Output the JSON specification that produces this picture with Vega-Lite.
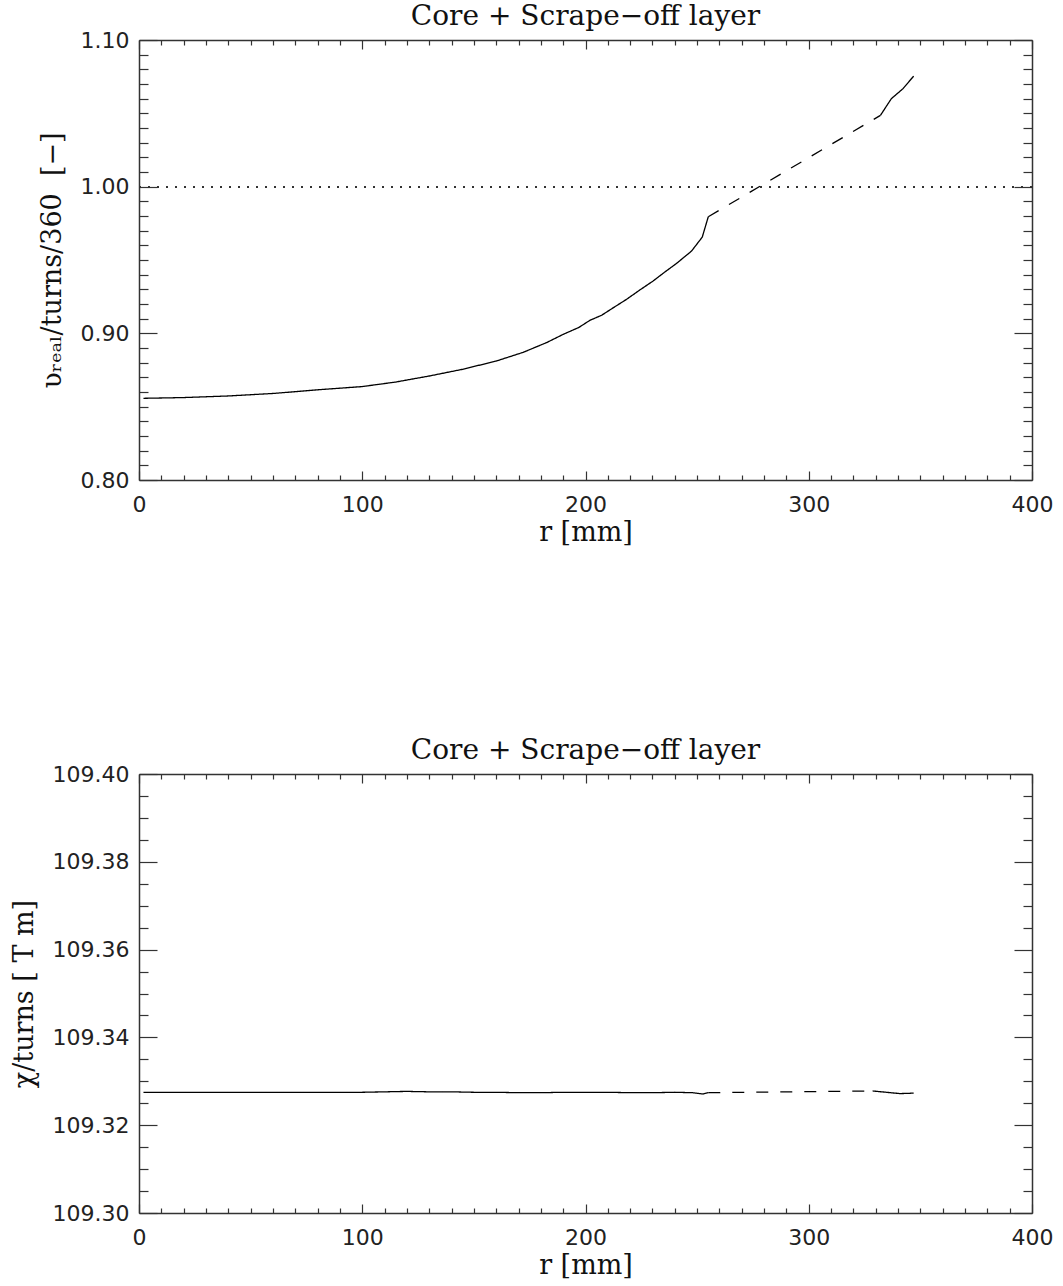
{
  "$schema": "https://vega.github.io/schema/vega-lite/v6.json",
  "background": "white",
  "padding": {"left": 10, "top": 3, "right": 5, "bottom": 2},
  "spacing": 192,
  "config": {
    "view": {"stroke": null},
    "font": "DejaVu Serif",
    "title": {"font": "DejaVu Serif", "fontSize": 28, "fontWeight": "normal", "color": "#111", "anchor": "middle", "offset": -2},
    "axis": {
      "grid": false,
      "labelFont": "DejaVu Sans",
      "labelFontSize": 22,
      "labelColor": "#222",
      "titleFont": "DejaVu Serif",
      "titleFontSize": 27,
      "titleFontWeight": "normal",
      "titleColor": "#111",
      "domainColor": "#333",
      "domainWidth": 1.5,
      "tickColor": "#333",
      "tickWidth": 1.2,
      "labelFlush": false,
      "labelOverlap": false
    }
  },
  "datasets": {
    "top": [
      {"r": 2, "v": 0.8557, "seg": "core", "style": "solid"},
      {"r": 20, "v": 0.8562, "seg": "core", "style": "solid"},
      {"r": 40, "v": 0.8573, "seg": "core", "style": "solid"},
      {"r": 60, "v": 0.8590, "seg": "core", "style": "solid"},
      {"r": 70.6, "v": 0.8603, "seg": "core", "style": "solid"},
      {"r": 80, "v": 0.8615, "seg": "core", "style": "solid"},
      {"r": 100, "v": 0.8637, "seg": "core", "style": "solid"},
      {"r": 115, "v": 0.8668, "seg": "core", "style": "solid"},
      {"r": 130, "v": 0.8709, "seg": "core", "style": "solid"},
      {"r": 145, "v": 0.8755, "seg": "core", "style": "solid"},
      {"r": 160, "v": 0.8811, "seg": "core", "style": "solid"},
      {"r": 172, "v": 0.8870, "seg": "core", "style": "solid"},
      {"r": 182.6, "v": 0.8937, "seg": "core", "style": "solid"},
      {"r": 190, "v": 0.8993, "seg": "core", "style": "solid"},
      {"r": 197, "v": 0.9040, "seg": "core", "style": "solid"},
      {"r": 202, "v": 0.9089, "seg": "core", "style": "solid"},
      {"r": 207.2, "v": 0.9123, "seg": "core", "style": "solid"},
      {"r": 212, "v": 0.9170, "seg": "core", "style": "solid"},
      {"r": 218.4, "v": 0.9232, "seg": "core", "style": "solid"},
      {"r": 224, "v": 0.9292, "seg": "core", "style": "solid"},
      {"r": 230.3, "v": 0.9357, "seg": "core", "style": "solid"},
      {"r": 235, "v": 0.9412, "seg": "core", "style": "solid"},
      {"r": 240.8, "v": 0.9477, "seg": "core", "style": "solid"},
      {"r": 247.5, "v": 0.9561, "seg": "core", "style": "solid"},
      {"r": 252.3, "v": 0.9656, "seg": "core", "style": "solid"},
      {"r": 255, "v": 0.9795, "seg": "core", "style": "solid"},
      {"r": 255, "v": 0.9795, "seg": "gap", "style": "dashed"},
      {"r": 332.1, "v": 1.0486, "seg": "gap", "style": "dashed"},
      {"r": 332.1, "v": 1.0486, "seg": "sol", "style": "solid"},
      {"r": 337, "v": 1.0600, "seg": "sol", "style": "solid"},
      {"r": 342.2, "v": 1.0668, "seg": "sol", "style": "solid"},
      {"r": 347, "v": 1.0754, "seg": "sol", "style": "solid"}
    ],
    "bottom": [
      {"r": 2, "v": 109.3275, "seg": "core", "style": "solid"},
      {"r": 20, "v": 109.3275, "seg": "core", "style": "solid"},
      {"r": 40, "v": 109.3275, "seg": "core", "style": "solid"},
      {"r": 60, "v": 109.3275, "seg": "core", "style": "solid"},
      {"r": 80, "v": 109.3275, "seg": "core", "style": "solid"},
      {"r": 100, "v": 109.3275, "seg": "core", "style": "solid"},
      {"r": 110, "v": 109.3276, "seg": "core", "style": "solid"},
      {"r": 120, "v": 109.3277, "seg": "core", "style": "solid"},
      {"r": 130, "v": 109.3276, "seg": "core", "style": "solid"},
      {"r": 140, "v": 109.3276, "seg": "core", "style": "solid"},
      {"r": 150, "v": 109.3275, "seg": "core", "style": "solid"},
      {"r": 160, "v": 109.3275, "seg": "core", "style": "solid"},
      {"r": 170, "v": 109.3274, "seg": "core", "style": "solid"},
      {"r": 180, "v": 109.3274, "seg": "core", "style": "solid"},
      {"r": 190, "v": 109.3275, "seg": "core", "style": "solid"},
      {"r": 200, "v": 109.3275, "seg": "core", "style": "solid"},
      {"r": 210, "v": 109.3275, "seg": "core", "style": "solid"},
      {"r": 220, "v": 109.3274, "seg": "core", "style": "solid"},
      {"r": 230, "v": 109.3274, "seg": "core", "style": "solid"},
      {"r": 240, "v": 109.3275, "seg": "core", "style": "solid"},
      {"r": 248, "v": 109.3274, "seg": "core", "style": "solid"},
      {"r": 252.7, "v": 109.3271, "seg": "core", "style": "solid"},
      {"r": 255, "v": 109.3274, "seg": "core", "style": "solid"},
      {"r": 255, "v": 109.3274, "seg": "gap", "style": "dashed"},
      {"r": 328.6, "v": 109.3278, "seg": "gap", "style": "dashed"},
      {"r": 328.6, "v": 109.3278, "seg": "sol", "style": "solid"},
      {"r": 340.8, "v": 109.3272, "seg": "sol", "style": "solid"},
      {"r": 347, "v": 109.3273, "seg": "sol", "style": "solid"}
    ]
  },
  "vconcat": [
    {
      "title": "Core + Scrape−off layer",
      "width": 893,
      "height": 440,
      "data": {"name": "top"},
      "resolve": {"axis": {"x": "independent", "y": "independent"}},
      "layer": [
        {
          "mark": {"type": "line", "color": "black", "strokeWidth": 1.3},
          "encoding": {
            "x": {
              "field": "r", "type": "quantitative",
              "scale": {"domain": [0, 400], "nice": false, "zero": false},
              "axis": {
                "orient": "bottom", "title": "r [mm]",
                "values": [0,10,20,30,40,50,60,70,80,90,100,110,120,130,140,150,160,170,180,190,200,210,220,230,240,250,260,270,280,290,300,310,320,330,340,350,360,370,380,390,400],
                "labelExpr": "datum.value % 100 === 0 ? datum.label : ''",
                "tickSize": {"condition": {"test": "datum.value % 100 === 0", "value": -9}, "value": -5},
                "labelPadding": 23,
                "titlePadding": 0
              }
            },
            "y": {
              "field": "v", "type": "quantitative",
              "scale": {"domain": [0.8, 1.1], "nice": false, "zero": false},
              "axis": {
                "orient": "left",
                "title": "ʋᵣₑₐₗ/turns/360\u00a0 [−]",
                "values": [0.8,0.81,0.82,0.83,0.84,0.85,0.86,0.87,0.88,0.89,0.9,0.91,0.92,0.93,0.94,0.95,0.96,0.97,0.98,0.99,1.0,1.01,1.02,1.03,1.04,1.05,1.06,1.07,1.08,1.09,1.1],
                "format": ".2f",
                "labelExpr": "abs(datum.value*10 - round(datum.value*10)) < 0.001 ? datum.label : ''",
                "tickSize": {"condition": {"test": "abs(datum.value*10 - round(datum.value*10)) < 0.001", "value": -18}, "value": -9},
                "labelPadding": 28,
                "titlePadding": 14
              }
            },
            "detail": {"field": "seg", "type": "nominal"},
            "strokeDash": {
              "field": "style", "type": "nominal",
              "scale": {"domain": ["solid", "dashed"], "range": [[1, 0], [12, 12]]},
              "legend": null
            }
          }
        },
        {
          "mark": {"type": "rule", "color": "#333", "strokeWidth": 1.3, "strokeDash": [2, 7]},
          "encoding": {"y": {"datum": 1, "type": "quantitative", "axis": null}}
        },
        {
          "mark": {"type": "line", "opacity": 0},
          "encoding": {
            "x": {
              "field": "r", "type": "quantitative",
              "axis": {
                "orient": "top", "title": null, "labels": false,
                "values": [0,10,20,30,40,50,60,70,80,90,100,110,120,130,140,150,160,170,180,190,200,210,220,230,240,250,260,270,280,290,300,310,320,330,340,350,360,370,380,390,400],
                "tickSize": {"condition": {"test": "datum.value % 100 === 0", "value": -9}, "value": -5}
              }
            },
            "y": {
              "field": "v", "type": "quantitative",
              "axis": {
                "orient": "right", "title": null, "labels": false,
                "values": [0.8,0.81,0.82,0.83,0.84,0.85,0.86,0.87,0.88,0.89,0.9,0.91,0.92,0.93,0.94,0.95,0.96,0.97,0.98,0.99,1.0,1.01,1.02,1.03,1.04,1.05,1.06,1.07,1.08,1.09,1.1],
                "tickSize": {"condition": {"test": "abs(datum.value*10 - round(datum.value*10)) < 0.001", "value": -18}, "value": -9}
              }
            },
            "detail": {"field": "seg", "type": "nominal"}
          }
        }
      ]
    },
    {
      "title": "Core + Scrape−off layer",
      "width": 893,
      "height": 439,
      "data": {"name": "bottom"},
      "resolve": {"axis": {"x": "independent", "y": "independent"}},
      "layer": [
        {
          "mark": {"type": "line", "color": "black", "strokeWidth": 1.3},
          "encoding": {
            "x": {
              "field": "r", "type": "quantitative",
              "scale": {"domain": [0, 400], "nice": false, "zero": false},
              "axis": {
                "orient": "bottom", "title": "r [mm]",
                "values": [0,10,20,30,40,50,60,70,80,90,100,110,120,130,140,150,160,170,180,190,200,210,220,230,240,250,260,270,280,290,300,310,320,330,340,350,360,370,380,390,400],
                "labelExpr": "datum.value % 100 === 0 ? datum.label : ''",
                "tickSize": {"condition": {"test": "datum.value % 100 === 0", "value": -9}, "value": -5},
                "labelPadding": 23,
                "titlePadding": 0
              }
            },
            "y": {
              "field": "v", "type": "quantitative",
              "scale": {"domain": [109.3, 109.4], "nice": false, "zero": false},
              "axis": {
                "orient": "left",
                "title": "χ/turns [ T m]",
                "values": [109.3,109.305,109.31,109.315,109.32,109.325,109.33,109.335,109.34,109.345,109.35,109.355,109.36,109.365,109.37,109.375,109.38,109.385,109.39,109.395,109.4],
                "format": ".2f",
                "labelExpr": "abs(datum.value*50 - round(datum.value*50)) < 0.001 ? datum.label : ''",
                "tickSize": {"condition": {"test": "abs(datum.value*50 - round(datum.value*50)) < 0.001", "value": -18}, "value": -9},
                "labelPadding": 28,
                "titlePadding": 14
              }
            },
            "detail": {"field": "seg", "type": "nominal"},
            "strokeDash": {
              "field": "style", "type": "nominal",
              "scale": {"domain": ["solid", "dashed"], "range": [[1, 0], [12.5, 12.5]]},
              "legend": null
            }
          }
        },
        {
          "mark": {"type": "line", "opacity": 0},
          "encoding": {
            "x": {
              "field": "r", "type": "quantitative",
              "axis": {
                "orient": "top", "title": null, "labels": false,
                "values": [0,10,20,30,40,50,60,70,80,90,100,110,120,130,140,150,160,170,180,190,200,210,220,230,240,250,260,270,280,290,300,310,320,330,340,350,360,370,380,390,400],
                "tickSize": {"condition": {"test": "datum.value % 100 === 0", "value": -9}, "value": -5}
              }
            },
            "y": {
              "field": "v", "type": "quantitative",
              "axis": {
                "orient": "right", "title": null, "labels": false,
                "values": [109.3,109.305,109.31,109.315,109.32,109.325,109.33,109.335,109.34,109.345,109.35,109.355,109.36,109.365,109.37,109.375,109.38,109.385,109.39,109.395,109.4],
                "tickSize": {"condition": {"test": "abs(datum.value*50 - round(datum.value*50)) < 0.001", "value": -18}, "value": -9}
              }
            },
            "detail": {"field": "seg", "type": "nominal"}
          }
        }
      ]
    }
  ]
}
